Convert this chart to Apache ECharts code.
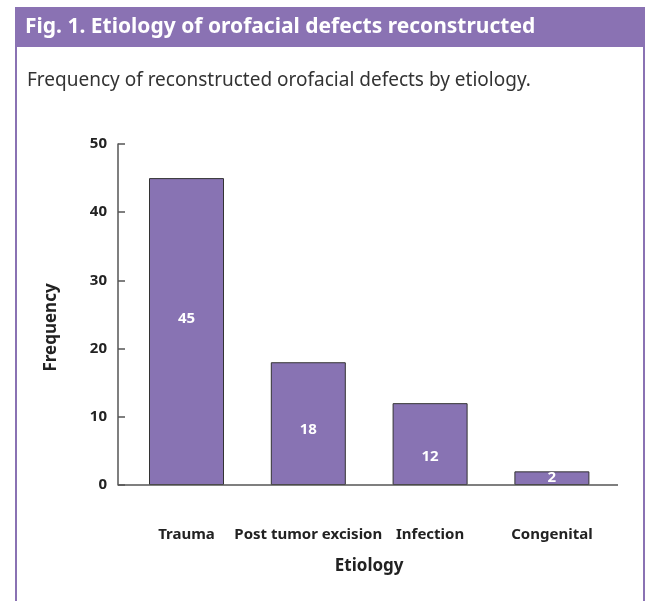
<!DOCTYPE html>
<html><head><meta charset="utf-8">
<script src="https://cdn.jsdelivr.net/npm/echarts@6/dist/echarts.min.js"></script>
<style>html,body{margin:0;padding:0;background:#fff}#c{width:649px;height:601px}</style>
</head><body><div id="c"></div>
<script>
var categories = ['Trauma', 'Post tumor excision', 'Infection', 'Congenital'];
var frequency = [45, 18, 12, 2];
var yTicks = [0, 10, 20, 30, 40, 50];

var FONT = '"Noto Sans", sans-serif';
var PURPLE = '#8a72b3';
var labelShift = [-13, 6, 13, 0];

var chart = echarts.init(document.getElementById('c'));
chart.setOption({
  animation: false,
  title: [
    {text: 'Fig. 1. Etiology of orofacial defects reconstructed', left: 20, top: 12,
     textStyle: {color: '#fff', fontWeight: 'bold', fontSize: 21, fontFamily: FONT}},
    {text: 'Frequency of reconstructed orofacial defects by etiology.', left: 22, top: 66,
     textStyle: {color: '#333', fontWeight: 'normal', fontSize: 19, fontFamily: FONT}}
  ],
  graphic: [
    {type: 'rect', shape: {x: 15, y: 7, width: 630, height: 40}, style: {fill: PURPLE}, z: -1},
    {type: 'rect', shape: {x: 15, y: 7, width: 2, height: 594}, style: {fill: PURPLE}},
    {type: 'rect', shape: {x: 643, y: 7, width: 2, height: 594}, style: {fill: PURPLE}},
    {type: 'line', shape: {x1: 118, y1: 485, x2: 618, y2: 485}, style: {stroke: '#555', lineWidth: 1.5}, z: 10}
  ],
  grid: {left: 125.6, right: 36.2, top: 144, bottom: 116, containLabel: false},
  xAxis: {
    type: 'category', data: categories,
    axisLine: {show: false}, axisTick: {show: false},
    axisLabel: {margin: 42, color: '#222', fontWeight: 'bold', fontSize: 15, fontFamily: FONT, interval: 0},
    name: 'Etiology', nameLocation: 'middle', nameGap: 73,
    nameTextStyle: {color: '#222', fontWeight: 'bold', fontSize: 17, fontFamily: FONT}
  },
  yAxis: {
    type: 'value', min: yTicks[0], max: yTicks[yTicks.length - 1], interval: yTicks[1] - yTicks[0],
    offset: 7.6,
    axisLine: {show: true, lineStyle: {color: '#555', width: 1.5}},
    axisTick: {show: true, inside: true, length: 7, lineStyle: {color: '#555', width: 1.5}},
    splitLine: {show: false},
    axisLabel: {margin: 11, color: '#222', fontWeight: 'bold', fontSize: 15, fontFamily: FONT},
    name: 'Frequency', nameLocation: 'middle', nameGap: 58,
    nameTextStyle: {color: '#222', fontWeight: 'bold', fontSize: 17, fontFamily: FONT, padding: [0, 26, 0, 0]}
  },
  series: [{
    type: 'bar', barWidth: 75,
    data: frequency.map(function (v, i) {
      return {value: v, label: {offset: [0, labelShift[i]]}};
    }),
    itemStyle: {color: '#8873b3', borderColor: '#333', borderWidth: 1},
    label: {show: true, position: 'inside', color: '#fff', fontWeight: 'bold', fontSize: 15, fontFamily: FONT}
  }]
});
</script></body></html>
